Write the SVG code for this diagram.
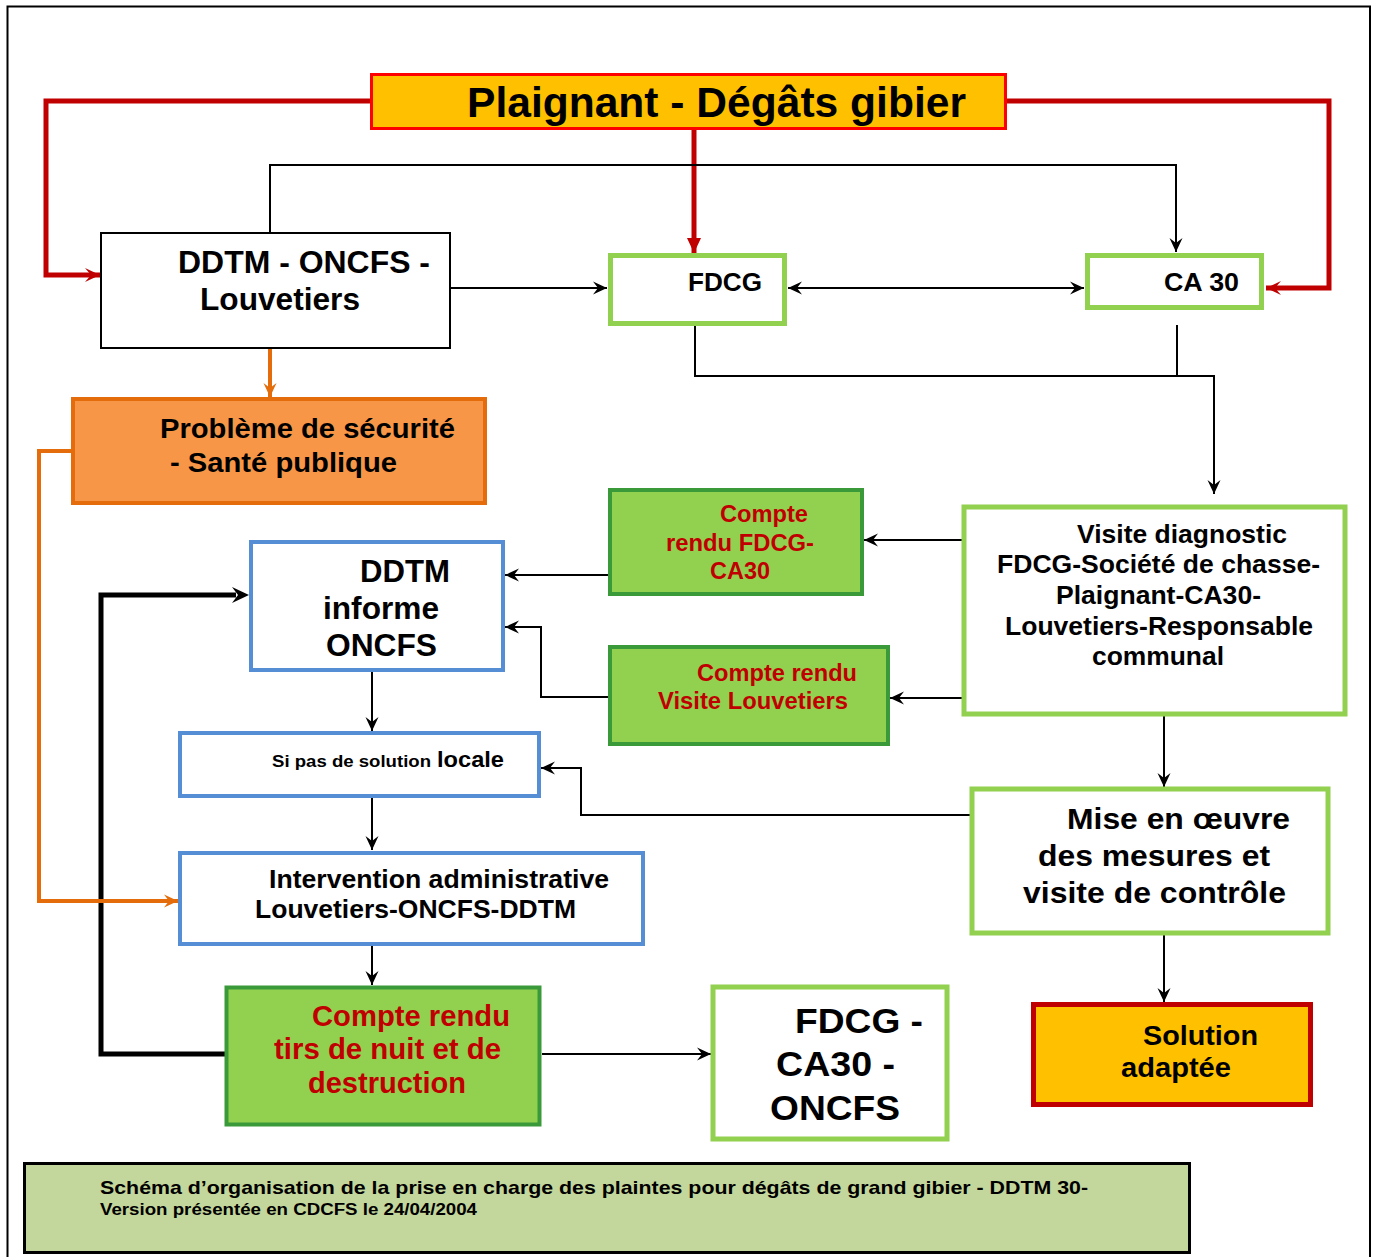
<svg xmlns="http://www.w3.org/2000/svg" width="1376" height="1257" viewBox="0 0 1376 1257">
  <style>
    text { font-family: "Liberation Sans", Arial, sans-serif; font-weight: bold; fill: #000; }
    .red { fill: #C00000; }
    .box { fill: #fff; }
    .green { stroke: #92D050; stroke-width: 5; }
    .blue { stroke: #558ED5; stroke-width: 4; }
    .report { fill: #92D050; stroke: #3A9A3A; stroke-width: 4; }
    .ln { fill: none; stroke: #000; stroke-width: 2; }
    .rd { fill: none; stroke: #C00000; stroke-width: 5; }
    .or { fill: none; stroke: #E46C0A; stroke-width: 4; }
  </style>
  <defs>
    <marker id="ak" markerUnits="userSpaceOnUse" markerWidth="15" markerHeight="15" refX="14" refY="7.5" orient="auto-start-reverse">
      <path d="M0,1 L14,7.5 L0,14 L5,7.5 z" fill="#000"/>
    </marker>
    <marker id="ar" markerUnits="userSpaceOnUse" markerWidth="16" markerHeight="16" refX="15" refY="8" orient="auto">
      <path d="M0,1 L15,8 L0,15 L6,8 z" fill="#C00000"/>
    </marker>
    <marker id="art" markerUnits="userSpaceOnUse" markerWidth="16" markerHeight="16" refX="15" refY="8" orient="auto">
      <path d="M0,1 L15,8 L0,15 z" fill="#C00000"/>
    </marker>
    <marker id="ao" markerUnits="userSpaceOnUse" markerWidth="15" markerHeight="15" refX="14" refY="7.5" orient="auto">
      <path d="M0,1 L14,7.5 L0,14 L5,7.5 z" fill="#E46C0A"/>
    </marker>
  </defs>

  <!-- page frame -->
  <path d="M7.5,1257 V6.5 H1370 V1257" fill="none" stroke="#000" stroke-width="2"/>

  <g id="connectors">
    <!-- complainant to the three services -->
    <path class="rd" d="M370,101 H46 V275 H100" marker-end="url(#ar)"/>
    <path class="rd" d="M1007,101 H1329 V288 H1266" marker-end="url(#ar)"/>
    <path class="rd" stroke-width="4" d="M694,129 V253" marker-end="url(#art)"/>
    <!-- black flow lines -->
    <path class="ln" d="M270,232 V165 H1176 V252" marker-end="url(#ak)"/>
    <path class="ln" d="M450,288 H607" marker-end="url(#ak)"/>
    <path class="ln" d="M788,288 H1084" marker-start="url(#ak)" marker-end="url(#ak)"/>
    <path class="ln" d="M695,326 V376 H1214 V494" marker-end="url(#ak)"/>
    <path class="ln" d="M1177,325 V376"/>
    <path class="ln" d="M962,540 H864" marker-end="url(#ak)"/>
    <path class="ln" d="M962,698 H890" marker-end="url(#ak)"/>
    <path class="ln" d="M608,575 H505" marker-end="url(#ak)"/>
    <path class="ln" d="M608,697 H541 V627 H505" marker-end="url(#ak)"/>
    <path class="ln" d="M372,672 V731" marker-end="url(#ak)"/>
    <path class="ln" d="M372,798 V850" marker-end="url(#ak)"/>
    <path class="ln" d="M372,946 V985" marker-end="url(#ak)"/>
    <path class="ln" d="M971,815 H581 V768 H541" marker-end="url(#ak)"/>
    <path class="ln" d="M542,1054 H711" marker-end="url(#ak)"/>
    <path class="ln" d="M1164,716 V787" marker-end="url(#ak)"/>
    <path class="ln" d="M1164,934 V1002" marker-end="url(#ak)"/>
    <!-- feedback from night shooting report -->
    <path fill="none" stroke="#000" stroke-width="5" d="M226,1054 H101 V595 H236"/>
    <path d="M232,587 L249,595 L232,603 L238,595 z" fill="#000"/>
    <!-- safety issue branch -->
    <path class="or" d="M270,348 V397" stroke-width="3" marker-end="url(#ao)"/>
    <path class="or" d="M71,451 H39 V901 H178" marker-end="url(#ao)"/>
  </g>

  <g id="plaignant">
    <rect x="371.5" y="74.5" width="634" height="54" fill="#FFC000" stroke="#FF0000" stroke-width="3"/>
    <text x="467" y="117" font-size="42" textLength="499" lengthAdjust="spacingAndGlyphs">Plaignant - Dégâts gibier</text>
  </g>

  <g id="ddtm-oncfs-louvetiers">
    <rect class="box" x="101" y="233" width="349" height="115" stroke="#000" stroke-width="2"/>
    <text x="178" y="273" font-size="31" textLength="252" lengthAdjust="spacingAndGlyphs">DDTM - ONCFS -</text>
    <text x="200" y="310" font-size="31" textLength="160" lengthAdjust="spacingAndGlyphs">Louvetiers</text>
  </g>

  <g id="fdcg">
    <rect class="box green" x="610.5" y="255.5" width="174" height="68"/>
    <text x="688" y="291" font-size="25" textLength="74" lengthAdjust="spacingAndGlyphs">FDCG</text>
  </g>

  <g id="ca30">
    <rect class="box green" x="1087.5" y="255.5" width="174" height="52"/>
    <text x="1164" y="291" font-size="25" textLength="75" lengthAdjust="spacingAndGlyphs">CA 30</text>
  </g>

  <g id="probleme-securite">
    <rect x="73" y="399" width="412" height="104" fill="#F79646" stroke="#E46C0A" stroke-width="4"/>
    <text x="160" y="438" font-size="27" textLength="295" lengthAdjust="spacingAndGlyphs">Problème de sécurité</text>
    <text x="170" y="472" font-size="27" textLength="227" lengthAdjust="spacingAndGlyphs">- Santé publique</text>
  </g>

  <g id="ddtm-informe">
    <rect class="box blue" x="251" y="542" width="252" height="128"/>
    <text x="360" y="582" font-size="31" textLength="90" lengthAdjust="spacingAndGlyphs">DDTM</text>
    <text x="323" y="619" font-size="31" textLength="116" lengthAdjust="spacingAndGlyphs">informe</text>
    <text x="326" y="656" font-size="31" textLength="111" lengthAdjust="spacingAndGlyphs">ONCFS</text>
  </g>

  <g id="cr-fdcg-ca30">
    <rect class="report" x="610" y="490" width="252" height="104"/>
    <text class="red" x="720" y="522" font-size="23" textLength="88" lengthAdjust="spacingAndGlyphs">Compte</text>
    <text class="red" x="666" y="551" font-size="23" textLength="148" lengthAdjust="spacingAndGlyphs">rendu FDCG-</text>
    <text class="red" x="710" y="579" font-size="23" textLength="60" lengthAdjust="spacingAndGlyphs">CA30</text>
  </g>

  <g id="cr-visite-louvetiers">
    <rect class="report" x="610" y="647" width="278" height="97"/>
    <text class="red" x="697" y="681" font-size="23" textLength="160" lengthAdjust="spacingAndGlyphs">Compte rendu</text>
    <text class="red" x="658" y="709" font-size="23" textLength="190" lengthAdjust="spacingAndGlyphs">Visite Louvetiers</text>
  </g>

  <g id="visite-diagnostic">
    <rect class="box green" stroke-width="4" x="964" y="507" width="381" height="207"/>
    <text x="1077" y="543" font-size="25" textLength="210" lengthAdjust="spacingAndGlyphs">Visite diagnostic</text>
    <text x="997" y="573" font-size="25" textLength="323" lengthAdjust="spacingAndGlyphs">FDCG-Société de chasse-</text>
    <text x="1056" y="604" font-size="25" textLength="205" lengthAdjust="spacingAndGlyphs">Plaignant-CA30-</text>
    <text x="1005" y="635" font-size="25" textLength="308" lengthAdjust="spacingAndGlyphs">Louvetiers-Responsable</text>
    <text x="1092" y="665" font-size="25" textLength="132" lengthAdjust="spacingAndGlyphs">communal</text>
  </g>

  <g id="si-pas-de-solution">
    <rect class="box blue" x="180" y="733" width="359" height="63"/>
    <text x="272" y="767" font-size="17" textLength="159" lengthAdjust="spacingAndGlyphs">Si pas de solution</text>
    <text x="437" y="767" font-size="22" textLength="67" lengthAdjust="spacingAndGlyphs">locale</text>
  </g>

  <g id="intervention-administrative">
    <rect class="box blue" x="180" y="853" width="463" height="91"/>
    <text x="269" y="888" font-size="25" textLength="340" lengthAdjust="spacingAndGlyphs">Intervention administrative</text>
    <text x="255" y="918" font-size="25" textLength="321" lengthAdjust="spacingAndGlyphs">Louvetiers-ONCFS-DDTM</text>
  </g>

  <g id="cr-tirs-de-nuit">
    <rect class="report" stroke-width="5" x="226.5" y="987.5" width="313" height="137"/>
    <text class="red" x="312" y="1026" font-size="29" textLength="198" lengthAdjust="spacingAndGlyphs">Compte rendu</text>
    <text class="red" x="274" y="1059" font-size="29" textLength="227" lengthAdjust="spacingAndGlyphs">tirs de nuit et de</text>
    <text class="red" x="308" y="1093" font-size="29" textLength="158" lengthAdjust="spacingAndGlyphs">destruction</text>
  </g>

  <g id="fdcg-ca30-oncfs">
    <rect class="box green" stroke-width="4" x="713" y="987" width="234" height="152"/>
    <text x="795" y="1033" font-size="35" textLength="128" lengthAdjust="spacingAndGlyphs">FDCG -</text>
    <text x="776" y="1076" font-size="35" textLength="119" lengthAdjust="spacingAndGlyphs">CA30 -</text>
    <text x="770" y="1120" font-size="35" textLength="130" lengthAdjust="spacingAndGlyphs">ONCFS</text>
  </g>

  <g id="mise-en-oeuvre">
    <rect class="box green" stroke-width="4" x="972" y="789" width="356" height="144"/>
    <text x="1067" y="829" font-size="30" textLength="223" lengthAdjust="spacingAndGlyphs">Mise en œuvre</text>
    <text x="1038" y="866" font-size="30" textLength="232" lengthAdjust="spacingAndGlyphs">des mesures et</text>
    <text x="1023" y="903" font-size="30" textLength="263" lengthAdjust="spacingAndGlyphs">visite de contrôle</text>
  </g>

  <g id="solution-adaptee">
    <rect x="1033.5" y="1004.5" width="277" height="100" fill="#FFC000" stroke="#C00000" stroke-width="5"/>
    <text x="1143" y="1045" font-size="28" textLength="115" lengthAdjust="spacingAndGlyphs">Solution</text>
    <text x="1121" y="1077" font-size="28" textLength="110" lengthAdjust="spacingAndGlyphs">adaptée</text>
  </g>

  <g id="legende">
    <rect x="24.5" y="1163.5" width="1165" height="89" fill="#C3D69B" stroke="#000" stroke-width="3"/>
    <text x="100" y="1194" font-size="19" textLength="988" lengthAdjust="spacingAndGlyphs">Schéma d’organisation de la prise en charge des plaintes pour dégâts de grand gibier - DDTM 30-</text>
    <text x="100" y="1215" font-size="16" textLength="377" lengthAdjust="spacingAndGlyphs">Version présentée en CDCFS le 24/04/2004</text>
  </g>
</svg>
